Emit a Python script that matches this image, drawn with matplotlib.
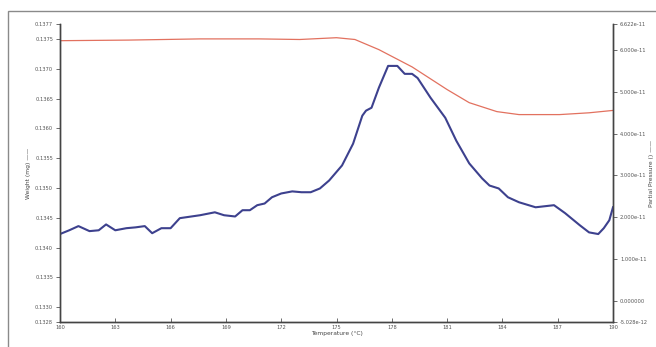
import matplotlib

matplotlib.use("Agg")
import matplotlib.pyplot as plt  # noqa: E402
from matplotlib.patches import Rectangle  # noqa: E402

# ---- data ----
temp_weight = [160.0, 163.7, 167.6, 170.8, 173.0, 175.0, 176.0, 177.3, 179.1,
               181.0, 182.2, 183.7, 184.9, 187.1, 188.7, 190.0]
weight_mg = [0.13747, 0.13748, 0.13750, 0.13750, 0.13749, 0.13752, 0.13749,
             0.13732, 0.13703, 0.13665, 0.13643, 0.13628, 0.13623, 0.13623,
             0.13626, 0.13630]

temp_press = [160.0, 160.5, 161.0, 161.6, 162.1, 162.5, 163.0, 163.6, 164.1,
              164.6, 165.0, 165.5, 166.0, 166.5, 167.6, 168.4, 168.9, 169.5,
              169.9, 170.3, 170.7, 171.1, 171.5, 172.0, 172.6, 173.1, 173.6,
              174.1, 174.6, 175.3, 175.9, 176.4, 176.6, 176.9, 177.3, 177.8,
              178.3, 178.7, 179.1, 179.4, 180.1, 180.9, 181.5, 182.2, 182.9,
              183.3, 183.8, 184.3, 184.9, 185.8, 186.8, 187.4, 188.2, 188.7,
              189.2, 189.5, 189.8, 190.0]
press_e11 = [1.60, 1.69, 1.79, 1.67, 1.69, 1.83, 1.69, 1.74, 1.76, 1.79, 1.62,
             1.74, 1.74, 1.98, 2.05, 2.12, 2.05, 2.02, 2.17, 2.17, 2.29, 2.33,
             2.48, 2.57, 2.62, 2.60, 2.60, 2.69, 2.88, 3.24, 3.76, 4.43, 4.55,
             4.62, 5.10, 5.62, 5.62, 5.43, 5.43, 5.33, 4.86, 4.38, 3.83, 3.29,
             2.93, 2.76, 2.69, 2.48, 2.36, 2.24, 2.29, 2.10, 1.81, 1.64, 1.60,
             1.74, 1.93, 2.24]
partial_pressure = [v * 1e-11 for v in press_e11]

x_ticks = [160, 163, 166, 169, 172, 175, 178, 181, 184, 187, 190]
w_lo, w_hi = 0.13275, 0.13775
w_ticks = [w_lo, 0.1330, 0.1335, 0.1340, 0.1345, 0.1350, 0.1355, 0.1360,
           0.1365, 0.1370, 0.1375, w_hi]
w_labels = ["0.1328", "0.1330", "0.1335", "0.1340", "0.1345", "0.1350",
            "0.1355", "0.1360", "0.1365", "0.1370", "0.1375", "0.1377"]
p_lo, p_hi = -5.028e-12, 6.622e-11
p_ticks = [p_lo, 0.0, 1e-11, 2e-11, 3e-11, 4e-11, 5e-11, 6e-11, p_hi]
p_labels = ["-5.028e-12", "0.000000", "1.000e-11", "2.000e-11", "3.000e-11",
            "4.000e-11", "5.000e-11", "6.000e-11", "6.622e-11"]

W, H = 656, 347
fig = plt.figure(figsize=(W / 100, H / 100), dpi=100)
fig.patches.append(Rectangle((8 / W, -0.1), 1.2, (H - 11) / H + 0.1,
                             transform=fig.transFigure, fill=False,
                             edgecolor="#8a8a8a", lw=1.0))
ax = fig.add_axes([60 / W, 25 / H, 553 / W, 298 / H])
ax2 = ax.twinx()

ax.plot(temp_weight, weight_mg, color="#e2715f", lw=0.9)
ax2.plot(temp_press, partial_pressure, color="#3d418e", lw=1.5)

ax.set_xlim(160, 190)
ax.set_ylim(w_lo, w_hi)
ax2.set_ylim(p_lo, p_hi)

ax.set_xticks(x_ticks)
ax.set_xticklabels([str(t) for t in x_ticks])
ax.set_yticks(w_ticks)
ax.set_yticklabels(w_labels)
ax2.set_yticks(p_ticks)
ax2.set_yticklabels(p_labels)

fs = 3.7
ax.tick_params(axis="x", direction="in", length=3, width=0.6, labelsize=fs,
               colors="#555555", pad=2)
ax.tick_params(axis="y", direction="out", length=3, width=0.6, labelsize=fs,
               colors="#555555", pad=2)
ax2.tick_params(axis="y", direction="out", length=3, width=0.6, labelsize=fs,
                colors="#555555", pad=2)

for a in (ax, ax2):
    a.spines["top"].set_visible(False)
    for s in ("left", "right", "bottom"):
        a.spines[s].set_color("#444444")
        a.spines[s].set_linewidth(1.0)

ax.set_xlabel("Temperature (°C)", fontsize=4.3, color="#444444", labelpad=1)
ax.set_ylabel("Weight (mg) ——", fontsize=4.3, color="#444444")
ax.yaxis.set_label_coords(-0.052, 0.5)
ax2.set_ylabel("Partial Pressure () ——", fontsize=4.3, color="#444444",
               rotation=90)
ax2.yaxis.set_label_coords(1.066, 0.5)

fig.savefig("out.png", dpi=100)
